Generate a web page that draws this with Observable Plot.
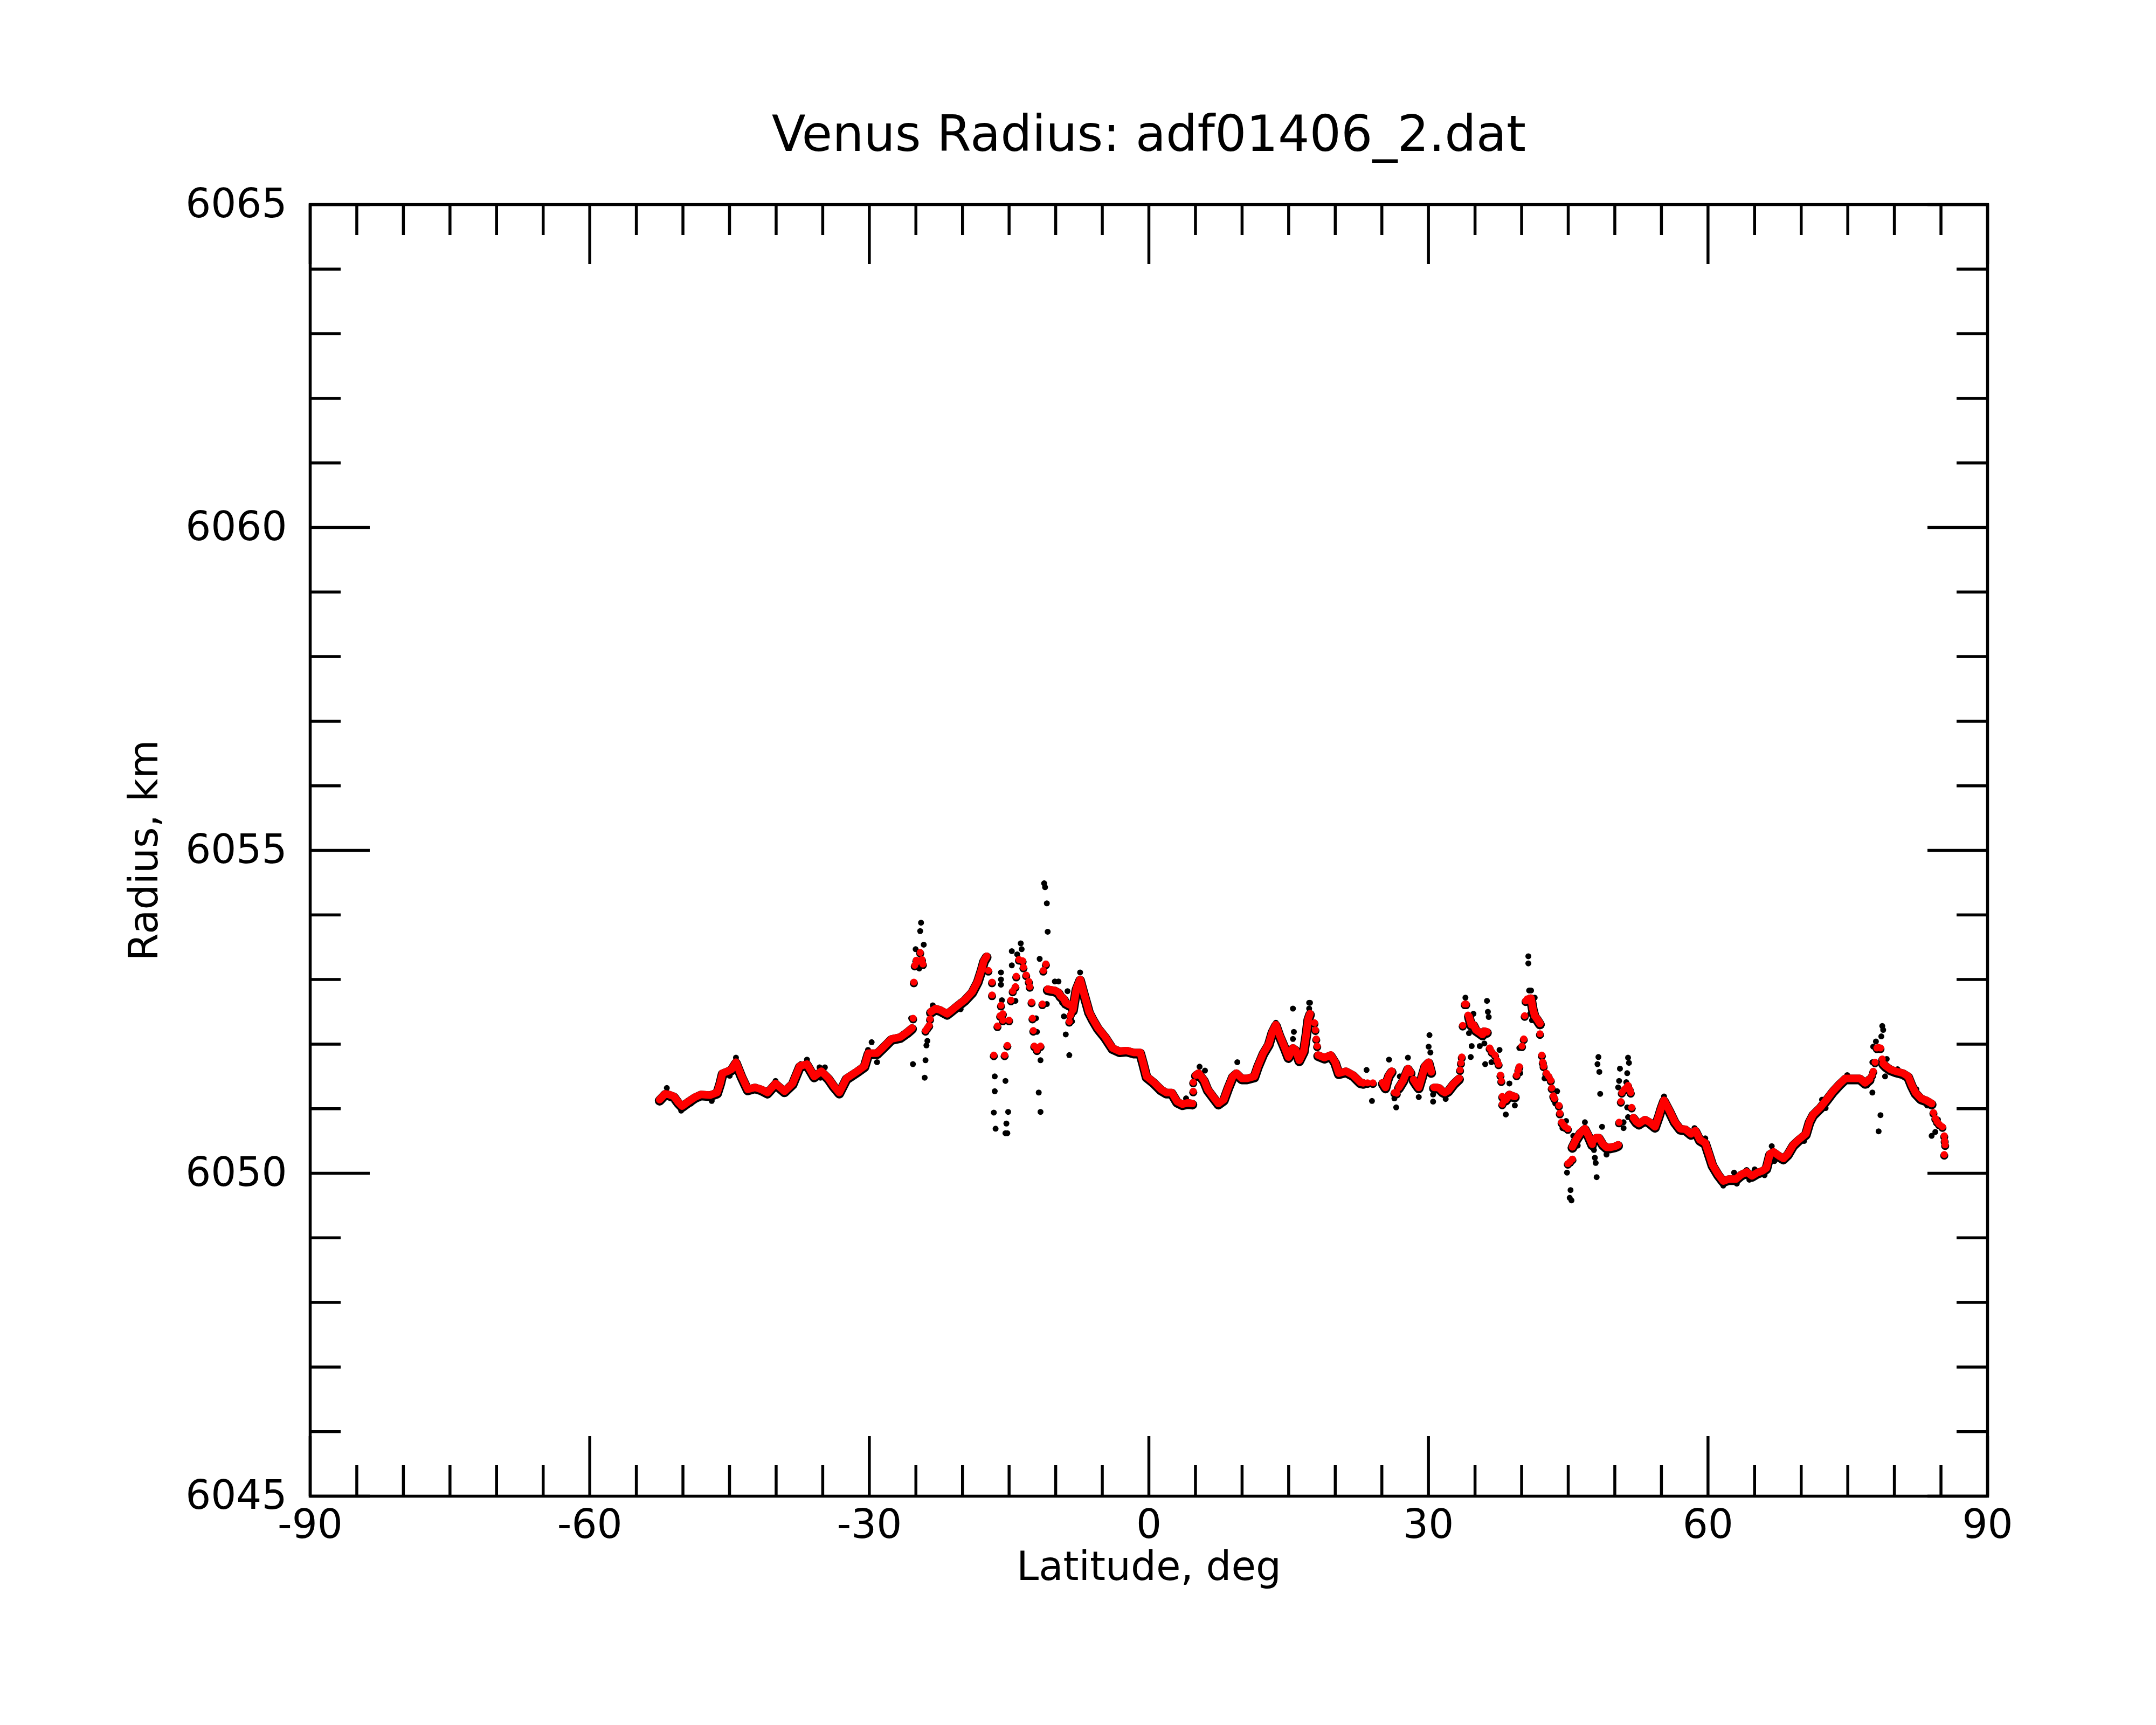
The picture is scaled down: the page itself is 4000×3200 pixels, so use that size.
<!DOCTYPE html>
<html>
<head>
<meta charset="utf-8">
<script src="https://cdn.jsdelivr.net/npm/d3@7"></script>
<script src="https://cdn.jsdelivr.net/npm/@observablehq/plot@0.6"></script>
<style>
  html, body { margin: 0; padding: 0; background: #fff; }
  #chart { width: 4000px; height: 3200px; }
</style>
</head>
<body>
<div id="chart"></div>
<script>
// ---------- text ----------
const titleText = "Venus Radius: adf01406_2.dat";
const xLabel = "Latitude, deg";
const yLabel = "Radius, km";

// ---------- ticks ----------
const xMajor = [-90, -60, -30, 0, 30, 60, 90];
const xMinor = [-85, -80, -75, -70, -65, -55, -50, -45, -40, -35, -25, -20, -15, -10, -5,
                5, 10, 15, 20, 25, 35, 40, 45, 50, 55, 65, 70, 75, 80, 85];
const yMajor = [6045, 6050, 6055, 6060, 6065];
const yMinor = [6046, 6047, 6048, 6049, 6051, 6052, 6053, 6054, 6056, 6057, 6058, 6059,
                6061, 6062, 6063, 6064];

// ---------- red (filtered) series: continuous runs [latitude, radius] ----------
const redRuns = [
  [[-52.5,6051.14],[-51.92,6051.23],[-51.5,6051.22],[-50.96,6051.19],[-50.5,6051.10],[-50.09,6051.04],
   [-49.42,6051.11],[-48.7,6051.18],[-48.07,6051.22],[-47.1,6051.21],[-46.33,6051.25],[-46.0,6051.40],
   [-45.75,6051.55],[-45.2,6051.58],[-44.79,6051.61],[-44.31,6051.72],[-43.7,6051.50],[-43.05,6051.30],
   [-42.28,6051.33],[-41.6,6051.30],[-40.93,6051.25],[-40.06,6051.39],[-39.1,6051.27],[-38.23,6051.39],
   [-37.46,6051.66],[-36.69,6051.69],[-35.92,6051.50],[-35.15,6051.58],[-34.38,6051.47],[-33.8,6051.35],
   [-33.22,6051.25],[-32.45,6051.47],[-31.29,6051.58],[-30.52,6051.66],[-30.1,6051.86],[-29.17,6051.86],
   [-28.59,6051.94],[-27.63,6052.08],[-26.67,6052.11],[-25.89,6052.19],[-25.41,6052.25]],
  [[-23.39,6052.50],[-22.9,6052.55],[-22.42,6052.53],[-21.65,6052.47],[-21.2,6052.52],[-20.69,6052.58],
   [-19.72,6052.69],[-18.95,6052.81],[-18.37,6052.97],[-17.99,6053.14],[-17.7,6053.29],[-17.41,6053.36]],
  [[-10.86,6052.85],[-10.47,6052.84],[-10.09,6052.83],[-9.7,6052.80],[-9.5,6052.75],[-9.12,6052.70],
   [-8.92,6052.64],[-8.54,6052.61]],
  [[-8.15,6052.53],[-7.96,6052.70],[-7.77,6052.86],[-7.38,6053.00],[-7.0,6052.80],[-6.61,6052.60],
   [-6.42,6052.50],[-6.03,6052.39],[-5.46,6052.25],[-4.68,6052.11],[-3.91,6051.94],[-3.14,6051.89],
   [-2.37,6051.90],[-1.6,6051.87],[-0.93,6051.87],[-0.64,6051.72],[-0.25,6051.50],[0.52,6051.41],
   [1.29,6051.30],[1.87,6051.25],[2.45,6051.25],[3.03,6051.11],[3.61,6051.07],[4.18,6051.09],[4.67,6051.08]],
  [[5.05,6051.52],[5.34,6051.55],[5.92,6051.44],[6.31,6051.30],[6.88,6051.19],[7.46,6051.08],[8.04,6051.14],
   [8.52,6051.33],[9.0,6051.50],[9.39,6051.55],[9.97,6051.47],[10.55,6051.47],[11.32,6051.50],[11.7,6051.66],
   [12.28,6051.86],[12.86,6052.00],[13.25,6052.19],[13.63,6052.30],[14.02,6052.14],[14.6,6051.94],
   [14.98,6051.80],[15.46,6051.94],[15.75,6051.91],[16.14,6051.75],[16.62,6051.89],[16.91,6052.17],
   [17.1,6052.39],[17.29,6052.47]],
  [[18.16,6051.83],[18.83,6051.79],[19.51,6051.83],[19.99,6051.72],[20.38,6051.55],[21.15,6051.58],
   [21.92,6051.52],[22.69,6051.41],[23.0,6051.40]],
  [[25.1,6051.40],[25.39,6051.33],[25.6,6051.45],[25.77,6051.52],[26.06,6051.58]],
  [[26.83,6051.33],[27.3,6051.44],[27.6,6051.55],[27.8,6051.62],[28.09,6051.56]],
  [[28.4,6051.45],[28.67,6051.39],[28.96,6051.33],[29.25,6051.47],[29.63,6051.66],[30.02,6051.72],[30.3,6051.57]],
  [[30.59,6051.33],[30.9,6051.33],[31.17,6051.32],[31.5,6051.27],[31.75,6051.25],[32.13,6051.28],
   [32.71,6051.39],[33.29,6051.47]],
  [[34.35,6052.43],[34.6,6052.30],[34.83,6052.30],[35.1,6052.22],[35.41,6052.19],[35.8,6052.15],
   [36.0,6052.20],[36.28,6052.19]],
  [[38.3,6051.14],[38.69,6051.22],[39.0,6051.20],[39.27,6051.19]],
  [[40.91,6052.71],[41.01,6052.71],[41.2,6052.55],[41.4,6052.44],[41.7,6052.38],[41.97,6052.32]],
  [[45.45,6050.41],[45.83,6050.52],[46.31,6050.63],[46.79,6050.69],[47.18,6050.58],[47.57,6050.45]],
  [[47.8,6050.52],[48.0,6050.55],[48.3,6050.55],[48.72,6050.45],[49.11,6050.40],[49.49,6050.40],
   [50.07,6050.42],[50.36,6050.44]],
  [[52.0,6050.86],[52.3,6050.80],[52.58,6050.77],[53.25,6050.83],[53.74,6050.79],[54.31,6050.72],
   [54.7,6050.88],[55.0,6051.02],[55.28,6051.13],[55.86,6050.97],[56.43,6050.80],[57.01,6050.69],
   [57.59,6050.68],[58.17,6050.61],[58.65,6050.66],[59.13,6050.52],[59.71,6050.47],[60.1,6050.30],
   [60.48,6050.13],[61.06,6049.99],[61.64,6049.88],[62.22,6049.91],[62.99,6049.91],[63.57,6049.98],
   [64.15,6050.02],[64.72,6049.96],[65.3,6050.01],[65.88,6050.04],[66.26,6050.08],[66.65,6050.30],
   [67.03,6050.33],[67.61,6050.27],[68.09,6050.23],[68.58,6050.30],[69.15,6050.44],[69.73,6050.52],
   [70.5,6050.61],[70.89,6050.80],[71.28,6050.91],[72.05,6051.02],[72.82,6051.16],[73.4,6051.27],
   [74.17,6051.39],[74.75,6051.47],[75.52,6051.47],[76.29,6051.47],[76.87,6051.40],[77.35,6051.46]],
  [[78.8,6051.70],[79.08,6051.66],[79.57,6051.61],[80.14,6051.58],[80.92,6051.55],[81.49,6051.50],
   [81.88,6051.36],[82.26,6051.25],[82.85,6051.16],[83.42,6051.13],[84.0,6051.08]]
];

// red isolated points
const redLoose = [
  [-25.3,6052.40],[-25.22,6052.96],[-25.12,6053.22],[-24.95,6053.30],[-24.83,6053.28],[-24.54,6053.42],
  [-24.35,6053.31],[-24.25,6053.24],[-23.97,6052.21],[-23.78,6052.25],[-23.58,6052.29],[-23.48,6052.39],
  [-17.22,6053.14],[-16.83,6052.96],[-16.83,6052.76],[-16.64,6051.83],[-15.48,6051.83],[-15.87,6052.60],
  [-15.96,6052.44],[-15.67,6052.47],[-16.25,6052.28],[-15.67,6052.37],[-15.0,6052.37],[-15.19,6051.98],
  [-14.8,6052.68],[-14.61,6052.82],[-14.32,6052.89],[-14.23,6053.05],[-13.94,6053.31],[-13.55,6053.29],
  [-13.46,6053.19],[-13.17,6053.07],[-12.88,6052.97],[-12.78,6052.89],[-12.59,6052.65],[-12.49,6052.40],
  [-12.4,6052.21],[-12.3,6051.97],[-12.01,6051.91],[-11.63,6051.97],[-11.43,6052.62],[-11.33,6053.14],
  [-11.05,6053.24],[-8.44,6052.44],[-8.54,6052.35],[-8.35,6052.47],
  [4.76,6051.27],[4.76,6051.41],
  [17.77,6052.33],[17.87,6052.22],[17.96,6052.08],[18.06,6051.97],
  [23.46,6051.40],[24.04,6051.40],[26.35,6051.25],[26.6,6051.24],
  [33.39,6051.60],[33.49,6051.71],[33.58,6051.80],[33.68,6052.29],[33.9,6052.62],[34.05,6052.62],[34.25,6052.45],
  [36.57,6051.94],[36.8,6051.88],[37.15,6051.83],[37.35,6051.75],[37.53,6051.69],[37.73,6051.52],
  [37.82,6051.43],[37.92,6051.19],[37.92,6051.07],[38.1,6051.12],
  [39.46,6051.52],[39.65,6051.60],[39.75,6051.65],[40.04,6051.97],[40.23,6052.08],[40.33,6052.44],
  [40.43,6052.67],[40.6,6052.70],
  [41.97,6052.16],[42.17,6051.83],[42.27,6051.72],[42.36,6051.66],[42.65,6051.55],[42.9,6051.50],
  [43.13,6051.44],[43.23,6051.32],[43.4,6051.20],[43.52,6051.16],[44.0,6051.05],[44.1,6050.93],
  [44.29,6050.79],[44.5,6050.75],[44.67,6050.72],[44.96,6050.69],
  [44.96,6050.15],[45.2,6050.18],[45.45,6050.22],
  [50.46,6050.79],[50.65,6051.11],[50.75,6051.25],[51.04,6051.30],[51.2,6051.32],[51.42,6051.36],
  [51.6,6051.30],[51.71,6051.25],[51.81,6051.02],
  [77.6,6051.52],[77.73,6051.58],[77.93,6051.72],[78.12,6051.94],[78.3,6051.95],[78.51,6051.94],[78.7,6051.77],
  [84.19,6050.94],[84.4,6050.85],[84.58,6050.80],[84.8,6050.76],[85.16,6050.72],[85.35,6050.58],
  [85.4,6050.50],[85.45,6050.44],[85.35,6050.29]
];

// black (raw) points that stand apart from the red series
const blackLoose = [
  [-51.73,6051.32],[-50.19,6050.97],[-49.13,6051.08],[-46.91,6051.12],[-44.31,6051.79],[-44.98,6051.51],
  [-41.03,6051.22],[-40.06,6051.43],[-39.0,6051.23],[-37.36,6051.69],[-36.69,6051.76],[-35.34,6051.64],
  [-34.77,6051.64],[-35.24,6051.48],[-33.13,6051.22],[-32.06,6051.50],[-30.14,6051.91],
  [-29.75,6052.03],[-29.17,6051.72],[-25.51,6052.40],[-23.19,6052.60],[-20.2,6052.54],
  [-24.45,6053.88],[-24.54,6053.75],[-24.16,6053.54],[-25.03,6053.47],[-24.64,6053.17],
  [-25.32,6051.69],[-24.06,6051.48],[-23.97,6051.75],[-23.87,6051.98],[-23.77,6052.05],
  [-16.54,6051.50],[-16.54,6051.27],[-16.64,6050.94],[-16.45,6050.69],[-15.39,6051.43],[-15.1,6050.95],
  [-15.29,6050.77],[-15.39,6050.62],[-15.19,6050.62],[-15.87,6053.11],[-15.87,6053.00],[-15.87,6052.92],
  [-15.77,6052.68],[-14.71,6053.44],[-14.71,6053.22],[-13.75,6053.56],[-13.65,6053.47],[-14.13,6053.39],
  [-14.32,6052.67],[-12.11,6052.40],[-12.01,6052.19],[-11.72,6053.32],[-11.63,6051.75],[-11.82,6051.25],
  [-11.63,6050.95],[-11.24,6054.49],[-11.14,6054.43],[-10.95,6054.18],[-10.86,6053.74],[-11.05,6053.25],
  [-10.95,6052.62],[-10.09,6052.97],[-9.7,6052.97],[-8.73,6052.82],[-9.31,6052.64],[-9.12,6052.43],
  [-8.25,6052.35],[-8.92,6052.15],[-8.54,6051.83],[-7.38,6053.11],
  [3.99,6051.16],[5.44,6051.65],[6.02,6051.59],[9.49,6051.72],[13.63,6052.33],[15.46,6052.55],
  [15.56,6052.19],[15.46,6052.08],[17.2,6052.64],[17.2,6052.55],
  [17.29,6052.64],[23.36,6051.60],[23.94,6051.12],[25.77,6051.76],[26.54,6051.02],[26.35,6051.16],
  [26.93,6051.50],[27.8,6051.79],[28.96,6051.18],[30.11,6052.14],[30.02,6051.96],[30.21,6051.87],
  [30.5,6051.22],[30.5,6051.11],[31.85,6051.15],[33.97,6052.72],[34.83,6052.47],[34.35,6052.17],
  [34.64,6051.97],[34.54,6051.80],[35.51,6051.97],[36.0,6052.01],[36.28,6052.67],[36.38,6052.50],
  [36.47,6052.42],[36.09,6051.69],[36.76,6051.72],[37.63,6051.91],[38.69,6051.39],[38.3,6050.91],
  [39.27,6051.05],[40.72,6053.36],[40.72,6053.25],[40.81,6052.83],[40.91,6052.47],[39.75,6051.94],
  [39.85,6051.55],
  [41.01,6052.83],[41.4,6052.72],[41.11,6052.37],[42.46,6051.47],[43.81,6051.27],[43.61,6051.08],
  [44.77,6050.81],[44.38,6050.70],[44.87,6050.01],[45.25,6049.74],[45.16,6049.62],[45.35,6049.58],
  [45.54,6050.58],[46.02,6050.43],[46.79,6050.79],[47.76,6050.36],[47.86,6050.24],[47.95,6050.16],
  [48.05,6049.94],[48.63,6050.72],[48.24,6051.80],[48.14,6051.69],[48.34,6051.57],[48.43,6051.23],
  [49.11,6050.29],[50.55,6051.62],[50.46,6051.43],[50.36,6051.33],[51.42,6051.79],[51.52,6051.71],
  [51.33,6051.55],[51.23,6051.41],[51.33,6051.02],[51.42,6050.87],[50.94,6050.79],[50.94,6050.70],
  [55.28,6051.19],[58.55,6050.70],[59.71,6050.54],[61.64,6049.81],[62.8,6050.01],[63.09,6049.84],
  [64.15,6050.05],[64.44,6049.90],
  [66.84,6050.42],[67.13,6050.19],[65.01,6050.06],[66.07,6049.97],[70.31,6050.50],[72.62,6051.01],
  [72.24,6051.14],[74.94,6051.52],[77.06,6051.36],[77.64,6051.25],[78.51,6050.90],[78.31,6050.65],
  [78.7,6052.28],[78.8,6052.22],[78.6,6052.12],[78.02,6052.04],[77.73,6051.96],[77.64,6051.72],
  [79.0,6051.50],[79.18,6051.77],[80.34,6051.61],[82.36,6051.30],[83.52,6051.05],[84.68,6050.83],
  [84.0,6050.58],[84.39,6050.64]
];

// ---------- build tables ----------
const runRows = redRuns.flatMap((run, i) => run.map(([lat, r]) => ({lat, r, seg: i})));
const redRows = runRows.concat(redLoose.map(([lat, r]) => ({lat, r})));
const blackRows = blackLoose.map(([lat, r]) => ({lat, r}));

const W = 4000, H = 3200;
const mL = 575, mR = 313, mT = 379, mB = 425;
const fw = W - mL - mR, fh = H - mT - mB;
const majorLen = 111, minorLen = 57, lw = 5.5;
const font = "DejaVu Sans, Liberation Sans, sans-serif";

const chart = Plot.plot({
  width: W, height: H,
  marginLeft: mL, marginRight: mR, marginTop: mT, marginBottom: mB,
  style: {fontFamily: font, background: "#fff", color: "#000"},
  x: {domain: [-90, 90]},
  y: {domain: [6045, 6065]},
  marks: [
    // ticks (inward) on all four sides
    Plot.ruleX(xMajor, {x: d => d, insetTop: fh - majorLen, stroke: "#000", strokeWidth: lw}),
    Plot.ruleX(xMinor, {x: d => d, insetTop: fh - minorLen, stroke: "#000", strokeWidth: lw}),
    Plot.ruleX(xMajor, {x: d => d, insetBottom: fh - majorLen, stroke: "#000", strokeWidth: lw}),
    Plot.ruleX(xMinor, {x: d => d, insetBottom: fh - minorLen, stroke: "#000", strokeWidth: lw}),
    Plot.ruleY(yMajor, {y: d => d, insetRight: fw - majorLen, stroke: "#000", strokeWidth: lw}),
    Plot.ruleY(yMinor, {y: d => d, insetRight: fw - minorLen, stroke: "#000", strokeWidth: lw}),
    Plot.ruleY(yMajor, {y: d => d, insetLeft: fw - majorLen, stroke: "#000", strokeWidth: lw}),
    Plot.ruleY(yMinor, {y: d => d, insetLeft: fw - minorLen, stroke: "#000", strokeWidth: lw}),
    Plot.frame({stroke: "#000", strokeWidth: lw}),

    // raw (black) points
    Plot.line(runRows, {x: "lat", y: "r", z: "seg", stroke: "#000", strokeWidth: 18,
      strokeLinecap: "round", strokeLinejoin: "round", dy: 2}),
    Plot.dot(blackRows, {x: "lat", y: "r", r: 5.5, fill: "#000", stroke: "none"}),
    Plot.dot(redRows, {x: "lat", y: "r", r: 7.5, fill: "#000", stroke: "none", dy: 2}),

    // filtered (red) points
    Plot.line(runRows, {x: "lat", y: "r", z: "seg", stroke: "#ff0000", strokeWidth: 14,
      strokeLinecap: "round", strokeLinejoin: "round"}),
    Plot.dot(redRows, {x: "lat", y: "r", r: 6.5, fill: "#ff0000", stroke: "none"}),

    // axes
    Plot.axisX(xMajor, {anchor: "bottom", tickSize: 0, tickPadding: 25, fontSize: 74,
      tickFormat: d => String(d), label: null}),
    Plot.axisY(yMajor, {anchor: "left", tickSize: 0, tickPadding: 43, fontSize: 74,
      tickFormat: d => String(d), label: null}),

    // title and axis labels
    Plot.text([titleText], {text: d => d, frameAnchor: "top", dy: -129, fontSize: 92,
      textAnchor: "middle", lineAnchor: "middle", fill: "#000"}),
    Plot.text([xLabel], {text: d => d, frameAnchor: "bottom", dy: 132, fontSize: 74,
      textAnchor: "middle", lineAnchor: "middle", fill: "#000"}),
    Plot.text([yLabel], {text: d => d, frameAnchor: "left", dx: -307, rotate: -90, fontSize: 74,
      textAnchor: "middle", lineAnchor: "middle", fill: "#000"})
  ]
});
document.getElementById("chart").appendChild(chart);
</script>
</body>
</html>
